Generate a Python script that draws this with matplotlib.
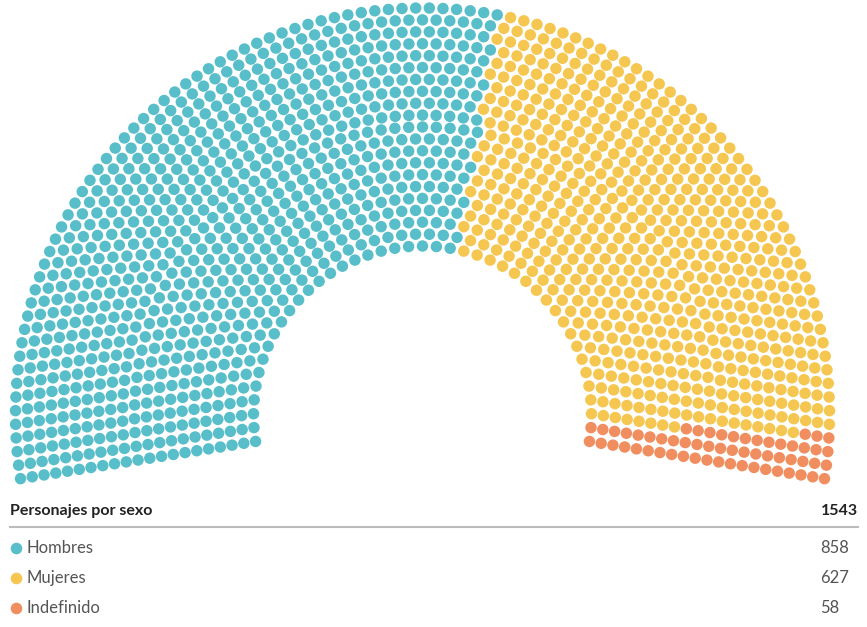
import numpy as np
import matplotlib.pyplot as plt

# datos
categorias = ["Hombres", "Mujeres", "Indefinido"]
valores = [858, 627, 58]
colores = ["#58BEC9", "#F5C650", "#F08E60"]
titulo = "Personajes por sexo"
total = sum(valores)

n_filas = 21

# geometria del hemiciclo (en pixeles de la figura)
cx, cy = 422.5, 415.0
r_in, r_out = 169.0, 407.0
ang_ini, ang_fin = np.radians(189.0), np.radians(-9.0)

radios = np.linspace(r_in, r_out, n_filas)
cuota = total * radios / radios.sum()
por_fila = np.floor(cuota).astype(int)
resto = total - por_fila.sum()
orden = np.argsort(-(cuota - por_fila))
por_fila[orden[:resto]] += 1

xs, ys, angs = [], [], []
for r, n in zip(radios, por_fila):
    a = np.linspace(ang_ini, ang_fin, n)
    xs.extend(cx + r * np.cos(a))
    ys.extend(cy - r * np.sin(a))
    angs.extend(a)
xs, ys, angs = np.array(xs), np.array(ys), np.array(angs)

# asientos ordenados por angulo, de izquierda a derecha
idx = np.argsort(-angs, kind="stable")
color_asiento = np.repeat(colores, valores)
c = np.empty(total, dtype=object)
c[idx] = color_asiento

plt.rcParams["font.family"] = ["Lato", "DejaVu Sans"]

fig = plt.figure(figsize=(8.67, 6.27), dpi=100)
ax = fig.add_axes([0, 0, 1, 1])
ax.set_xlim(0, 867)
ax.set_ylim(627, 0)
ax.axis("off")

ax.scatter(xs, ys, s=68, c=list(c), linewidths=0)

# leyenda
ax.text(10, 511, titulo, fontsize=11.5, fontweight="bold", color="#222222", va="center", ha="left")
ax.text(858, 511, f"{total}", fontsize=11.5, fontweight="bold", color="#222222", va="center", ha="right")
ax.plot([10, 858], [527, 527], color="#bbbbbb", lw=1.5)

for i, (cat, val, col) in enumerate(zip(categorias, valores, colores)):
    y = 548 + i * 30
    ax.scatter([16], [y], s=70, color=col, linewidths=0)
    ax.text(27, y, cat, fontsize=12, color="#555555", va="center", ha="left")
    ax.text(820, y, f"{val}", fontsize=12, color="#555555", va="center", ha="left")

fig.savefig("out.png", dpi=100)
